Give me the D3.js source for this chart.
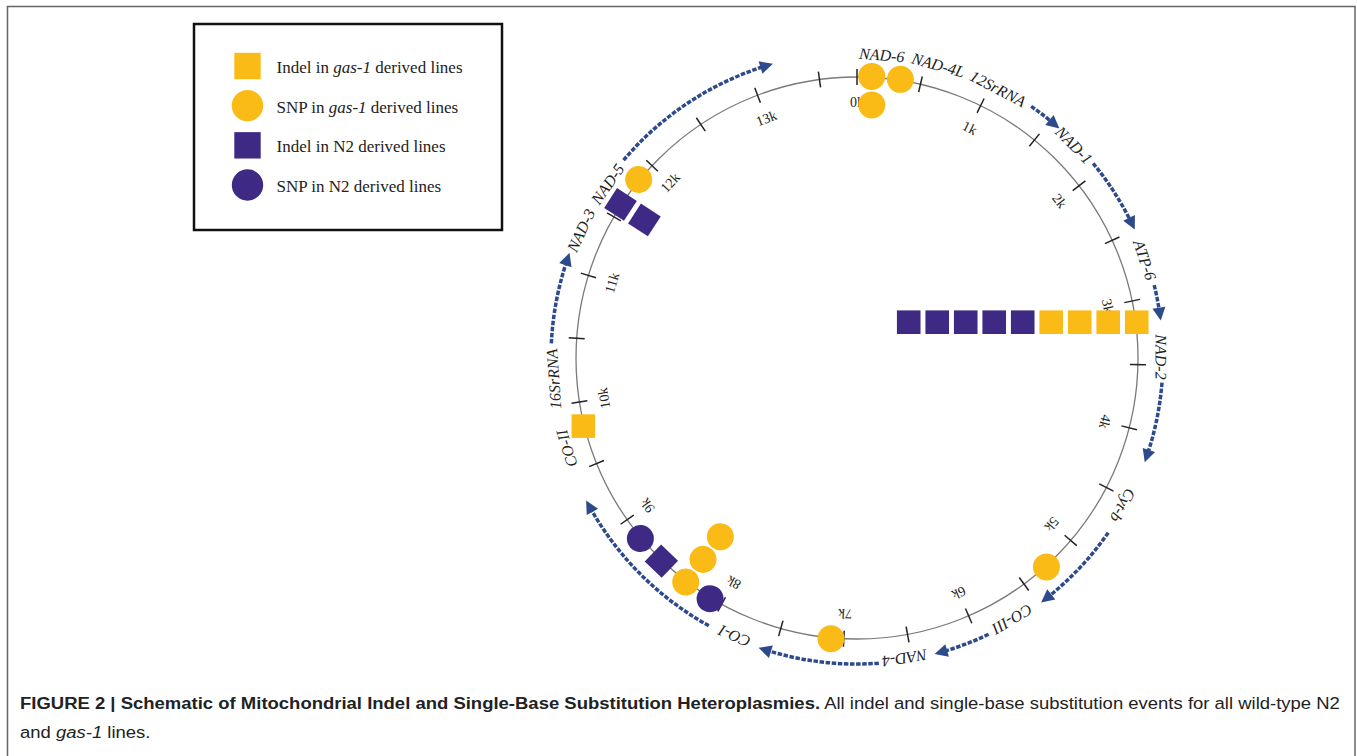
<!DOCTYPE html>
<html>
<head>
<meta charset="utf-8">
<script src="https://cdn.jsdelivr.net/npm/d3@7"></script>
<style>
  body { margin: 0; background: #fff; }
  svg { display: block; }
</style>
</head>
<body>
<svg id="chart"></svg>
<script>
var width = 1357, height = 756;

// genome (bp)
var genomeLength = 13794;
var tickPositions = d3.range(0, 13794, 500);
var tickLabels = ['0k','1k','2k','3k','4k','5k','6k','7k','8k','9k','10k','11k','12k','13k'];

// gene labels and their position on the genome (bp)
var geneNames = ['NAD-6','NAD-4L','12SrRNA','NAD-1','ATP-6','NAD-2','Cyt-b','CO-III','NAD-4','CO-I','CO-II','16SrRNA','NAD-3','NAD-5'];
var genePos   = [180, 594, 1058, 1745, 2728, 3441, 4560, 5720, 6552, 7807, 9682, 10194, 11296, 11683];

// transcription arrows (start / end bp)
var arrowStart = [1329, 1935, 2920, 3625, 4782, 5921, 6740, 8007, 10450, 11889];
var arrowEnd   = [1536, 2447, 3129, 4162, 5430, 6284, 7566, 9232, 11065, 13133];

// events: position (bp) and type; events at the same position stack inward
var eventPos  = [115, 115, 339, 3169, 3169, 3169, 3169, 3169, 3169, 3169, 3169, 3169,
                 5280, 7100, 8100, 8330, 8330, 8330, 8580, 8820, 9810, 11610, 11610, 11850];
var eventType = ['gasSNP','gasSNP','gasSNP','gasIndel','gasIndel','gasIndel','gasIndel','n2Indel','n2Indel','n2Indel','n2Indel','n2Indel',
                 'gasSNP','gasSNP','n2SNP','gasSNP','gasSNP','gasSNP','n2Indel','n2SNP','gasIndel','n2Indel','n2Indel','gasSNP'];

var legendTypes  = ['gasIndel','gasSNP','n2Indel','n2SNP'];
var legendLabels = [['Indel in ','gas-1',' derived lines'],['SNP in ','gas-1',' derived lines'],['Indel in N2 derived lines','',''],['SNP in N2 derived lines','','']];

var yellow = '#fbbb16', purple = '#3e2a84', arrowBlue = '#2d4a8c';
var typeColor = { gasIndel: yellow, gasSNP: yellow, n2Indel: purple, n2SNP: purple };
var typeShape = { gasIndel: 'square', gasSNP: 'circle', n2Indel: 'square', n2SNP: 'circle' };

var cx = 857, cy = 358, R = 281;
var angle = d3.scaleLinear().domain([0, genomeLength]).range([0, 2 * Math.PI]);
function px(a, r) { return cx + r * Math.sin(a); }
function py(a, r) { return cy - r * Math.cos(a); }
function deg(a) { return a * 180 / Math.PI; }

var svg = d3.select('#chart').attr('width', width).attr('height', height);

// frame
svg.append('rect')
    .attr('x', 7.5).attr('y', 6.5).attr('width', 1347.5).attr('height', 800)
    .attr('fill', 'none').attr('stroke', '#666').attr('stroke-width', 1.5);

// genome circle
svg.append('circle')
    .attr('cx', cx).attr('cy', cy).attr('r', R)
    .attr('fill', 'none').attr('stroke', '#7a7a7a').attr('stroke-width', 1.3);

svg.selectAll('line.tick')
    .data(tickPositions).enter()
    .append('line')
    .attr('class', 'tick')
    .attr('x1', function(d){ return px(angle(d), R - 8); })
    .attr('y1', function(d){ return py(angle(d), R - 8); })
    .attr('x2', function(d){ return px(angle(d), R + 8); })
    .attr('y2', function(d){ return py(angle(d), R + 8); })
    .attr('stroke', '#222').attr('stroke-width', 1.5);

svg.selectAll('text.ticklabel')
    .data(tickLabels).enter()
    .append('text')
    .attr('class', 'ticklabel')
    .attr('transform', function(d, i){
        var a = angle(i * 1000);
        return 'translate(' + px(a, 256) + ',' + py(a, 256) + ') rotate(' + deg(a) + ')';
    })
    .attr('text-anchor', 'middle')
    .attr('dominant-baseline', 'central')
    .style('font-family', '"Liberation Serif", "DejaVu Serif", serif')
    .style('font-size', '14px')
    .attr('fill', '#222')
    .text(function(d){ return d; });

// gene labels
svg.selectAll('text.gene')
    .data(geneNames).enter()
    .append('text')
    .attr('class', 'gene')
    .attr('transform', function(d, i){
        var a = angle(genePos[i]);
        return 'translate(' + px(a, 304) + ',' + py(a, 304) + ') rotate(' + deg(a) + ')';
    })
    .attr('text-anchor', 'middle')
    .attr('dominant-baseline', 'central')
    .style('font-family', '"Liberation Serif", "DejaVu Serif", serif')
    .style('font-style', 'italic')
    .style('font-size', '16px')
    .attr('fill', '#222')
    .text(function(d){ return d; });

// dashed arrows
var arrowR = 306;
var arrows = svg.selectAll('g.arrow')
    .data(arrowStart).enter()
    .append('g').attr('class', 'arrow');

arrows.append('path')
    .attr('d', function(d, i){
        var a0 = angle(d), a1 = angle(arrowEnd[i]) - 5 / arrowR;
        var p = d3.path();
        p.moveTo(px(a0, arrowR), py(a0, arrowR));
        p.arc(cx, cy, arrowR, a0 - Math.PI / 2, a1 - Math.PI / 2);
        return p.toString();
    })
    .attr('fill', 'none')
    .attr('stroke', arrowBlue)
    .attr('stroke-width', 3.5)
    .attr('stroke-dasharray', '4.5,1.6');

arrows.append('path')
    .attr('d', 'M7,0 L-6,-6.5 L-6,6.5 Z')
    .attr('transform', function(d, i){
        var a = angle(arrowEnd[i]);
        return 'translate(' + px(a, arrowR) + ',' + py(a, arrowR) + ') rotate(' + deg(a) + ')';
    })
    .attr('fill', arrowBlue);

// events: anchored on the circle, stacked inward; stacking snaps to an axis near 0/90/180/270
var stackStep = 28.5, baseR = 282;
var seen = {};
var stackIndex = eventPos.map(function(p){ seen[p] = (seen[p] || 0) + 1; return seen[p] - 1; });
function stackAngle(a) {
    var d = deg(a), n = Math.round(d / 90) * 90;
    return Math.abs(d - n) < 15 ? n : d;
}

var events = svg.selectAll('g.event')
    .data(eventPos).enter()
    .append('g')
    .attr('class', 'event')
    .attr('transform', function(d, i){
        var a = angle(d), s = stackAngle(a) * Math.PI / 180, k = stackIndex[i] * stackStep;
        var x = px(a, baseR) - k * Math.sin(s), y = py(a, baseR) + k * Math.cos(s);
        return 'translate(' + x + ',' + y + ') rotate(' + deg(s) + ')';
    });

events.each(function(d, i){
    var g = d3.select(this);
    var t = eventType[i];
    if (typeShape[t] === 'circle') {
        g.append('circle').attr('r', 13.5).attr('fill', typeColor[t]);
    } else {
        g.append('rect').attr('x', -11.8).attr('y', -11.8).attr('width', 23.6).attr('height', 23.6)
            .attr('fill', typeColor[t]);
    }
});

// legend
var legend = svg.append('g');
legend.append('rect')
    .attr('x', 194).attr('y', 24).attr('width', 308).attr('height', 206)
    .attr('fill', '#fff').attr('stroke', '#111').attr('stroke-width', 2.5);

var legendY = d3.scalePoint().domain(legendTypes).range([66, 185]);
var items = legend.selectAll('g.item')
    .data(legendTypes).enter()
    .append('g')
    .attr('class', 'item')
    .attr('transform', function(d){ return 'translate(247.5,' + legendY(d) + ')'; });

items.each(function(t){
    var g = d3.select(this);
    if (typeShape[t] === 'circle') {
        g.append('circle').attr('r', 15.7).attr('fill', typeColor[t]);
    } else {
        g.append('rect').attr('x', -13.2).attr('y', -13.2).attr('width', 26.4).attr('height', 26.4).attr('fill', typeColor[t]);
    }
});

var legendText = items.append('text')
    .attr('x', 29)
    .attr('y', 1)
    .attr('dominant-baseline', 'central')
    .style('font-family', '"Liberation Serif", "DejaVu Serif", serif')
    .style('font-size', '17px')
    .attr('fill', '#222');
legendText.each(function(t, i){
    var parts = legendLabels[i];
    var el = d3.select(this);
    el.append('tspan').text(parts[0]);
    if (parts[1]) el.append('tspan').style('font-style', 'italic').text(parts[1]);
    if (parts[2]) el.append('tspan').text(parts[2]);
});

// caption
var caption = svg.append('g')
    .style('font-family', '"Liberation Sans", Arial, sans-serif')
    .style('font-size', '17px')
    .attr('fill', '#222');
var line1 = caption.append('text').attr('x', 0).attr('y', 0);
line1.append('tspan').style('font-weight', 'bold')
    .text('FIGURE 2 | Schematic of Mitochondrial Indel and Single-Base Substitution Heteroplasmies.');
line1.append('tspan').text(' All indel and single-base substitution events for all wild-type N2');
var line2 = caption.append('text').attr('x', 0).attr('y', 29);
line2.append('tspan').text('and ');
line2.append('tspan').style('font-style', 'italic').text('gas-1');
line2.append('tspan').text(' lines.');

var natural = line1.node().getComputedTextLength();
var sx = 1321 / natural;
caption.attr('transform', 'translate(20,709) scale(' + sx + ',1)');
</script>
</body>
</html>
